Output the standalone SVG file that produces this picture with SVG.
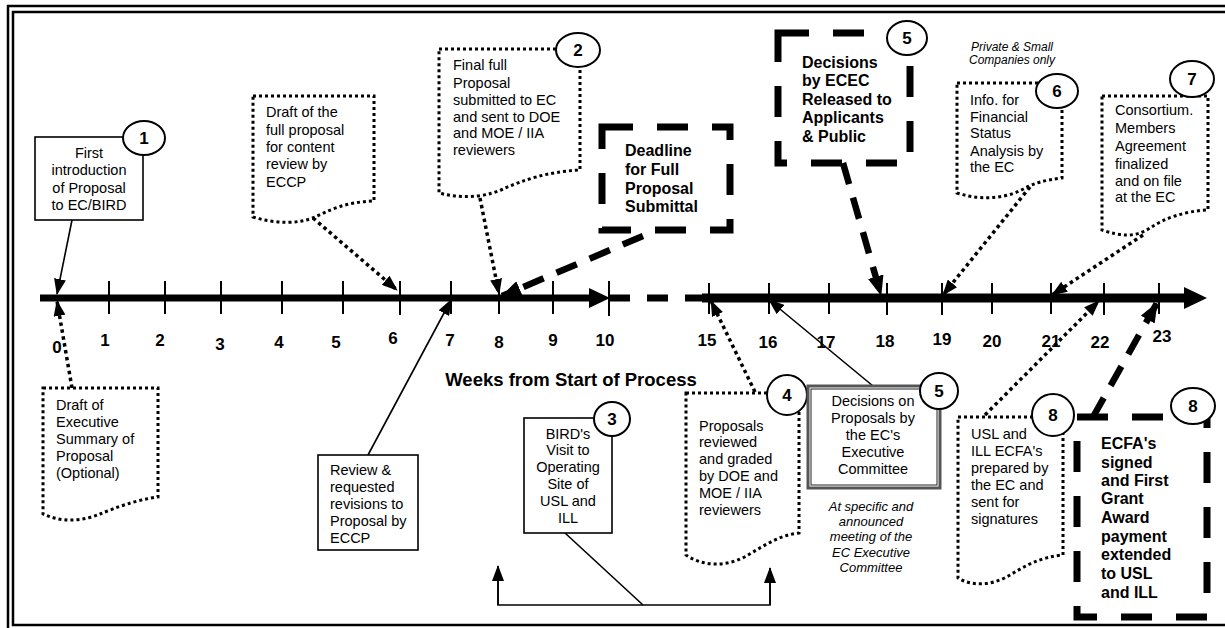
<svg xmlns="http://www.w3.org/2000/svg" width="1225" height="628" viewBox="0 0 1225 628">
<defs>
<style>
text{font-family:"Liberation Sans",Arial,sans-serif;fill:#000}
.t{font-size:14.5px}
.tc{font-size:14.5px;text-anchor:middle}
.b{font-size:16px;font-weight:bold}
.n{font-size:17px;font-weight:bold;text-anchor:middle}
.it{font-size:13px;font-style:italic;text-anchor:middle}
.its{font-size:12px;font-style:italic;text-anchor:middle}
.lbl{font-size:17px;font-weight:bold;text-anchor:middle}
.dot{fill:#fff;stroke:#000;stroke-width:3;stroke-dasharray:3 3}
.dash{fill:none;stroke:#000;stroke-width:7;stroke-dasharray:31 24}
.box{fill:#fff;stroke:#000;stroke-width:1.6}
.circ{fill:#fff;stroke:#000;stroke-width:2}
.dl{fill:none;stroke:#000;stroke-width:3.5;stroke-dasharray:3.5 3.5}
.dsh{fill:none;stroke:#000;stroke-width:6.5;stroke-dasharray:22 14}
.thin{fill:none;stroke:#000;stroke-width:1.6}
.tick{stroke:#000;stroke-width:2}
</style>
<marker id="ah" viewBox="0 0 16 12" refX="15" refY="6" markerWidth="16" markerHeight="12" markerUnits="userSpaceOnUse" orient="auto"><path d="M0,0 L16,6 L0,12 Z" fill="#000"/></marker>
<marker id="ahb" viewBox="0 0 20 16" refX="19" refY="8" markerWidth="20" markerHeight="16" markerUnits="userSpaceOnUse" orient="auto"><path d="M0,0 L20,8 L0,16 Z" fill="#000"/></marker>
</defs>
<rect x="0" y="0" width="1225" height="628" fill="#fff"/>
<g id="frame" fill="none" stroke="#000" stroke-width="2.5">
<rect x="8" y="6" width="1240" height="640"/>
<rect x="13" y="12" width="1230" height="613"/>
</g>
<g id="timeline">
<line x1="40" y1="298" x2="595" y2="298" stroke="#000" stroke-width="7"/>
<path d="M589,288 L610,298 L589,308 Z" fill="#000"/>
<path d="M609,298 H630 M647,298 H668 M685,298 H702" stroke="#000" stroke-width="7"/>
<line x1="702" y1="298" x2="1188" y2="298" stroke="#000" stroke-width="9"/>
<path d="M1184,287 L1207,298 L1184,309 Z" fill="#000"/>
<g class="tick">
<line x1="109" y1="281" x2="109" y2="314"/><line x1="165" y1="281" x2="165" y2="314"/><line x1="221" y1="281" x2="221" y2="314"/><line x1="282" y1="281" x2="282" y2="314"/><line x1="343" y1="281" x2="343" y2="314"/><line x1="400" y1="281" x2="400" y2="315"/><line x1="451" y1="281" x2="451" y2="314"/><line x1="499" y1="281" x2="499" y2="314"/><line x1="553" y1="281" x2="553" y2="314"/><line x1="609" y1="281" x2="609" y2="316"/><line x1="709" y1="283" x2="709" y2="314"/><line x1="769" y1="283" x2="769" y2="314"/><line x1="829" y1="283" x2="829" y2="314"/><line x1="887" y1="283" x2="887" y2="315"/><line x1="942" y1="283" x2="942" y2="315"/><line x1="992" y1="283" x2="992" y2="314"/><line x1="1051" y1="283" x2="1051" y2="314"/><line x1="1104" y1="283" x2="1104" y2="315"/><line x1="1159" y1="283" x2="1159" y2="314"/>
</g>
<text class="lbl" x="57" y="353">0</text><text class="lbl" x="105" y="346">1</text><text class="lbl" x="160" y="346">2</text><text class="lbl" x="220" y="350">3</text><text class="lbl" x="279" y="348">4</text><text class="lbl" x="336" y="348">5</text><text class="lbl" x="393" y="344">6</text><text class="lbl" x="450" y="346">7</text><text class="lbl" x="499" y="348">8</text><text class="lbl" x="553" y="346">9</text><text class="lbl" x="605" y="346">10</text><text class="lbl" x="707" y="346">15</text><text class="lbl" x="768" y="348">16</text><text class="lbl" x="826" y="348">17</text><text class="lbl" x="885" y="347">18</text><text class="lbl" x="942" y="345">19</text><text class="lbl" x="992" y="347">20</text><text class="lbl" x="1051" y="347">21</text><text class="lbl" x="1100" y="348">22</text><text class="lbl" x="1162" y="342">23</text>
<text x="571" y="386" style="font-size:18.5px;font-weight:bold;text-anchor:middle">Weeks from Start of Process</text>
</g>
<g id="connectors">
<line class="thin" x1="72" y1="220" x2="57" y2="294" marker-end="url(#ah)"/>
<line class="dl" x1="313" y1="218" x2="397" y2="290" marker-end="url(#ah)"/>
<line class="dl" x1="480" y1="198" x2="499" y2="294" marker-end="url(#ah)"/>
<line class="dsh" x1="643" y1="236" x2="502" y2="296" marker-end="url(#ahb)"/>
<line class="dsh" x1="843" y1="163" x2="881" y2="295" marker-end="url(#ahb)"/>
<line class="dl" x1="1030" y1="187" x2="943" y2="295" marker-end="url(#ah)"/>
<line class="dl" x1="1143" y1="235" x2="1052" y2="295" marker-end="url(#ah)"/>
<line class="dl" x1="72" y1="388" x2="57" y2="301" marker-end="url(#ah)"/>
<line class="thin" x1="368" y1="455" x2="451" y2="300" marker-end="url(#ah)"/>
<line class="thin" x1="565" y1="533" x2="643" y2="605"/>
<polyline class="thin" points="498,568 498,605 770,605 770,568"/>
<line class="thin" x1="498" y1="605" x2="498" y2="566" marker-end="url(#ah)"/>
<line class="thin" x1="770" y1="605" x2="770" y2="568" marker-end="url(#ah)"/>
<line class="dl" x1="755" y1="392" x2="711" y2="301" marker-end="url(#ah)"/>
<line class="thin" x1="873" y1="386" x2="769" y2="300" marker-end="url(#ah)"/>
<line class="dl" x1="985" y1="415" x2="1099" y2="301" marker-end="url(#ah)"/>
<line class="dsh" x1="1093" y1="417" x2="1157" y2="303" marker-end="url(#ahb)"/>
</g>
<g id="n1">
<rect class="box" x="35" y="137" width="108" height="83"/>
<ellipse class="circ" cx="144" cy="138" rx="21" ry="17"/><text class="n" x="144" y="144">1</text>
<text class="tc" x="89" y="158">First</text><text class="tc" x="89" y="175">introduction</text><text class="tc" x="89" y="193">of Proposal</text><text class="tc" x="89" y="210">to EC/BIRD</text>
</g>
<g id="n-draft-full">
<path class="dot" d="M253,96 H374 V201 C345,202 330,210 315,217 C300,224 275,224 253,217 Z"/>
<text class="t" x="266" y="117">Draft of the</text><text class="t" x="266" y="135">full proposal</text><text class="t" x="266" y="152">for content</text><text class="t" x="266" y="169">review by</text><text class="t" x="266" y="187">ECCP</text>
</g>
<g id="n2">
<path class="dot" d="M439,49 H580 V170 C545,172 525,180 505,188 C490,196 465,200 439,193 Z"/>
<ellipse class="circ" cx="578" cy="50" rx="22" ry="17"/><text class="n" x="578" y="56">2</text>
<text class="t" x="453" y="70">Final full</text><text class="t" x="453" y="88">Proposal</text><text class="t" x="453" y="105">submitted to EC</text><text class="t" x="453" y="122">and sent to DOE</text><text class="t" x="453" y="138">and MOE / IIA</text><text class="t" x="453" y="155">reviewers</text>
</g>
<g id="n-deadline">
<rect class="dash" x="602" y="127" width="128" height="103" fill="#fff"/>
<text class="b" x="625" y="156">Deadline</text><text class="b" x="625" y="175">for Full</text><text class="b" x="625" y="194">Proposal</text><text class="b" x="625" y="212">Submittal</text>
</g>
<g id="n5-top">
<rect class="dash" x="778" y="33" width="132" height="130"/>
<ellipse class="circ" cx="907" cy="38" rx="20" ry="17"/><text class="n" x="907" y="44">5</text>
<text class="b" x="802" y="68">Decisions</text><text class="b" x="802" y="86">by ECEC</text><text class="b" x="802" y="105">Released to</text><text class="b" x="802" y="123">Applicants</text><text class="b" x="802" y="142">&amp; Public</text>
</g>
<g id="n6">
<text class="its" x="1012" y="51">Private &amp; Small</text><text class="its" x="1012" y="64">Companies only</text>
<path class="dot" d="M957,83 H1062 V178 C1045,180 1035,183 1025,188 C1010,197 985,202 957,193 Z"/>
<ellipse class="circ" cx="1057" cy="91" rx="21" ry="17"/><text class="n" x="1057" y="97">6</text>
<text class="t" x="970" y="105">Info. for</text><text class="t" x="970" y="122">Financial</text><text class="t" x="970" y="138">Status</text><text class="t" x="970" y="156">Analysis by</text><text class="t" x="970" y="172">the EC</text>
</g>
<g id="n7">
<path class="dot" d="M1102,96 H1208 V210 C1185,211 1165,218 1150,228 C1135,238 1120,236 1102,230 Z"/>
<ellipse class="circ" cx="1192" cy="79" rx="22" ry="18"/><text class="n" x="1192" y="85">7</text>
<text class="t" x="1115" y="115">Consortium.</text><text class="t" x="1115" y="133">Members</text><text class="t" x="1115" y="151">Agreement</text><text class="t" x="1115" y="169">finalized</text><text class="t" x="1115" y="186">and on file</text><text class="t" x="1115" y="202">at the EC</text>
</g>
<g id="n-draft-exec">
<path class="dot" d="M43,388 H158 V497 C135,500 115,508 100,514 C85,520 65,524 43,514 Z"/>
<text class="t" x="56" y="410">Draft of</text><text class="t" x="56" y="427">Executive</text><text class="t" x="56" y="444">Summary of</text><text class="t" x="56" y="461">Proposal</text><text class="t" x="56" y="478">(Optional)</text>
</g>
<g id="n-review">
<rect class="box" x="318" y="455" width="100" height="95"/>
<text class="t" x="330" y="475">Review &amp;</text><text class="t" x="330" y="492">requested</text><text class="t" x="330" y="509">revisions to</text><text class="t" x="330" y="526">Proposal by</text><text class="t" x="330" y="543">ECCP</text>
</g>
<g id="n3">
<rect class="box" x="524" y="418" width="88" height="115"/>
<ellipse class="circ" cx="612" cy="419" rx="18" ry="17"/><text class="n" x="612" y="425">3</text>
<text class="tc" x="568" y="439">BIRD's</text><text class="tc" x="568" y="455">Visit to</text><text class="tc" x="568" y="472">Operating</text><text class="tc" x="568" y="489">Site of</text><text class="tc" x="568" y="506">USL and</text><text class="tc" x="568" y="523">ILL</text>
</g>
<g id="n4">
<path class="dot" d="M686,393 H799 V533 C780,535 765,545 748,555 C730,566 705,568 686,555 Z"/>
<ellipse class="circ" cx="787" cy="395" rx="20" ry="20"/><text class="n" x="787" y="401">4</text>
<text class="t" x="699" y="431">Proposals</text><text class="t" x="699" y="447">reviewed</text><text class="t" x="699" y="464">and graded</text><text class="t" x="699" y="481">by DOE and</text><text class="t" x="699" y="498">MOE / IIA</text><text class="t" x="699" y="515">reviewers</text>
</g>
<g id="n5-bottom">
<rect x="808" y="386" width="132" height="102" fill="#fff" stroke="#555" stroke-width="3"/>
<rect x="811" y="389" width="126" height="96" fill="none" stroke="#222" stroke-width="1"/>
<ellipse class="circ" cx="939" cy="391" rx="19" ry="18"/><text class="n" x="939" y="397">5</text>
<text class="tc" x="873" y="406">Decisions on</text><text class="tc" x="873" y="423">Proposals by</text><text class="tc" x="873" y="440">the EC's</text><text class="tc" x="873" y="457">Executive</text><text class="tc" x="873" y="474">Committee</text>
<text class="it" x="871" y="511">At specific and</text><text class="it" x="871" y="526">announced</text><text class="it" x="871" y="541">meeting of the</text><text class="it" x="871" y="557">EC Executive</text><text class="it" x="871" y="572">Committee</text>
</g>
<g id="n8a">
<path class="dot" d="M958,417 H1063 V555 C1040,557 1025,566 1010,575 C995,584 975,588 958,578 Z"/>
<ellipse class="circ" cx="1053" cy="415" rx="21" ry="21"/><text class="n" x="1053" y="421">8</text>
<text class="t" x="971" y="439">USL and</text><text class="t" x="971" y="456">ILL ECFA's</text><text class="t" x="971" y="473">prepared by</text><text class="t" x="971" y="490">the EC and</text><text class="t" x="971" y="507">sent for</text><text class="t" x="971" y="524">signatures</text>
</g>
<g id="n8b">
<rect class="dash" x="1077" y="417" width="130" height="200" fill="#fff"/>
<ellipse class="circ" cx="1193" cy="406" rx="22" ry="18"/><text class="n" x="1193" y="412">8</text>
<text class="b" x="1101" y="449">ECFA's</text><text class="b" x="1101" y="468">signed</text><text class="b" x="1101" y="486">and First</text><text class="b" x="1101" y="504">Grant</text><text class="b" x="1101" y="523">Award</text><text class="b" x="1101" y="542">payment</text><text class="b" x="1101" y="560">extended</text><text class="b" x="1101" y="579">to USL</text><text class="b" x="1101" y="598">and ILL</text>
</g>
</svg>
